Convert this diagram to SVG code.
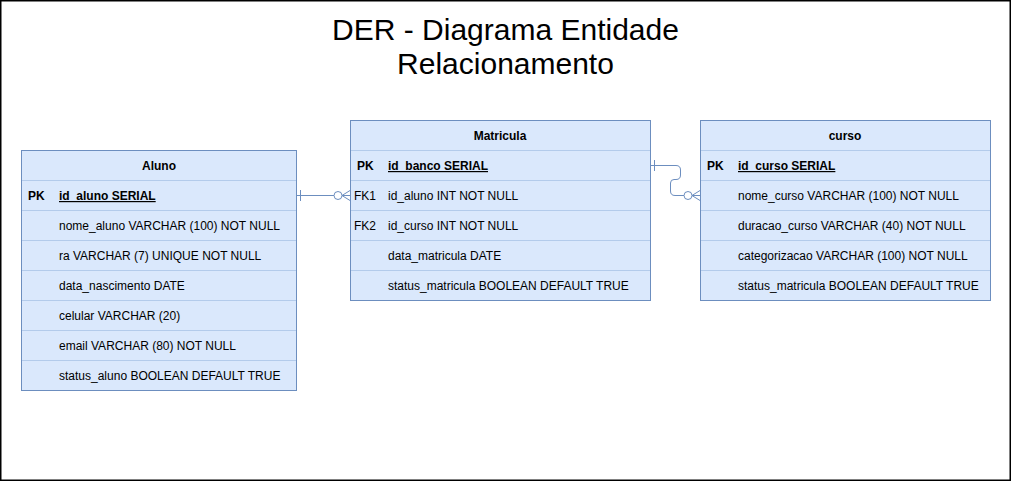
<svg xmlns="http://www.w3.org/2000/svg" width="1012" height="482" viewBox="0 0 1012 482">
<style>
.tbl{fill:#dae8fc;stroke:#6c8ebf;stroke-width:1}
.row{stroke:#b3cbeb;stroke-width:1}
.hdr{font-family:"Liberation Sans",Arial,sans-serif;font-size:12px;font-weight:bold;fill:#000;text-anchor:middle}
.key{font-family:"Liberation Sans",Arial,sans-serif;font-size:12px;font-weight:bold;fill:#000}
.pkf{font-family:"Liberation Sans",Arial,sans-serif;font-size:12px;font-weight:bold;fill:#000;text-decoration:underline}
.fld{font-family:"Liberation Sans",Arial,sans-serif;font-size:12px;fill:#000}
.title{font-family:"Liberation Sans",Arial,sans-serif;font-size:30px;fill:#000;text-anchor:middle}
.conn{fill:none;stroke:#6c8ebf;stroke-width:1}
</style>
<rect x="0.75" y="0.75" width="1009.5" height="479.5" fill="#fff" stroke="#000" stroke-width="1.5"/>
<g id="title">
<text class="title" x="505.5" y="40">DER - Diagrama Entidade</text>
<text class="title" x="505.5" y="74">Relacionamento</text>
</g>
<g id="aluno">
<rect class="tbl" x="21.5" y="150.5" width="275" height="240"/>
<line class="row" x1="22" y1="180.5" x2="296" y2="180.5"/>
<line class="row" x1="22" y1="210.5" x2="296" y2="210.5"/>
<line class="row" x1="22" y1="240.5" x2="296" y2="240.5"/>
<line class="row" x1="22" y1="270.5" x2="296" y2="270.5"/>
<line class="row" x1="22" y1="300.5" x2="296" y2="300.5"/>
<line class="row" x1="22" y1="330.5" x2="296" y2="330.5"/>
<line class="row" x1="22" y1="360.5" x2="296" y2="360.5"/>
<text class="hdr" x="159" y="170">Aluno</text>
<text class="key" x="28" y="200">PK</text>
<text class="pkf" x="59" y="200">id_aluno SERIAL</text>
<text class="fld" x="59" y="230">nome_aluno VARCHAR (100) NOT NULL</text>
<text class="fld" x="59" y="260">ra VARCHAR (7) UNIQUE NOT NULL</text>
<text class="fld" x="59" y="290">data_nascimento DATE</text>
<text class="fld" x="59" y="320">celular VARCHAR (20)</text>
<text class="fld" x="59" y="350">email VARCHAR (80) NOT NULL</text>
<text class="fld" x="59" y="380">status_aluno BOOLEAN DEFAULT TRUE</text>
</g>
<g id="matricula">
<rect class="tbl" x="350.5" y="120.5" width="300" height="180"/>
<line class="row" x1="351" y1="150.5" x2="650" y2="150.5"/>
<line class="row" x1="351" y1="180.5" x2="650" y2="180.5"/>
<line class="row" x1="351" y1="210.5" x2="650" y2="210.5"/>
<line class="row" x1="351" y1="240.5" x2="650" y2="240.5"/>
<line class="row" x1="351" y1="270.5" x2="650" y2="270.5"/>
<text class="hdr" x="500" y="140">Matricula</text>
<text class="key" x="357" y="170">PK</text>
<text class="pkf" x="388" y="170">id_banco SERIAL</text>
<text class="fld" x="354" y="200">FK1</text>
<text class="fld" x="388" y="200">id_aluno INT NOT NULL</text>
<text class="fld" x="354" y="230">FK2</text>
<text class="fld" x="388" y="230">id_curso INT NOT NULL</text>
<text class="fld" x="388" y="260">data_matricula DATE</text>
<text class="fld" x="388" y="290">status_matricula BOOLEAN DEFAULT TRUE</text>
</g>
<g id="curso">
<rect class="tbl" x="700.5" y="120.5" width="290" height="180"/>
<line class="row" x1="701" y1="150.5" x2="990" y2="150.5"/>
<line class="row" x1="701" y1="180.5" x2="990" y2="180.5"/>
<line class="row" x1="701" y1="210.5" x2="990" y2="210.5"/>
<line class="row" x1="701" y1="240.5" x2="990" y2="240.5"/>
<line class="row" x1="701" y1="270.5" x2="990" y2="270.5"/>
<text class="hdr" x="845" y="140">curso</text>
<text class="key" x="707" y="170">PK</text>
<text class="pkf" x="738" y="170">id_curso SERIAL</text>
<text class="fld" x="738" y="200">nome_curso VARCHAR (100) NOT NULL</text>
<text class="fld" x="738" y="230">duracao_curso VARCHAR (40) NOT NULL</text>
<text class="fld" x="738" y="260">categorizacao VARCHAR (100) NOT NULL</text>
<text class="fld" x="738" y="290">status_matricula BOOLEAN DEFAULT TRUE</text>
</g>
<g id="connectors">
<path class="conn" d="M297,195.5 H334"/>
<line class="conn" x1="300.5" y1="190" x2="300.5" y2="201"/>
<circle class="conn" cx="338" cy="195.5" r="4" fill="#fff"/>
<path class="conn" d="M342,195.5 L350,190.5 M342,195.5 H350 M342,195.5 L350,200.5"/>
<path class="conn" d="M651,165.5 H676 Q680.5,165.5 680.5,170 V175 Q680.5,179.5 676,179.5 H674 Q670.5,179.5 670.5,183 V191 Q670.5,195.5 675,195.5 H684"/>
<line class="conn" x1="654.5" y1="160" x2="654.5" y2="171"/>
<circle class="conn" cx="688" cy="195.5" r="4" fill="#fff"/>
<path class="conn" d="M692,195.5 L700,190.5 M692,195.5 H700 M692,195.5 L700,200.5"/>
</g>
</svg>
